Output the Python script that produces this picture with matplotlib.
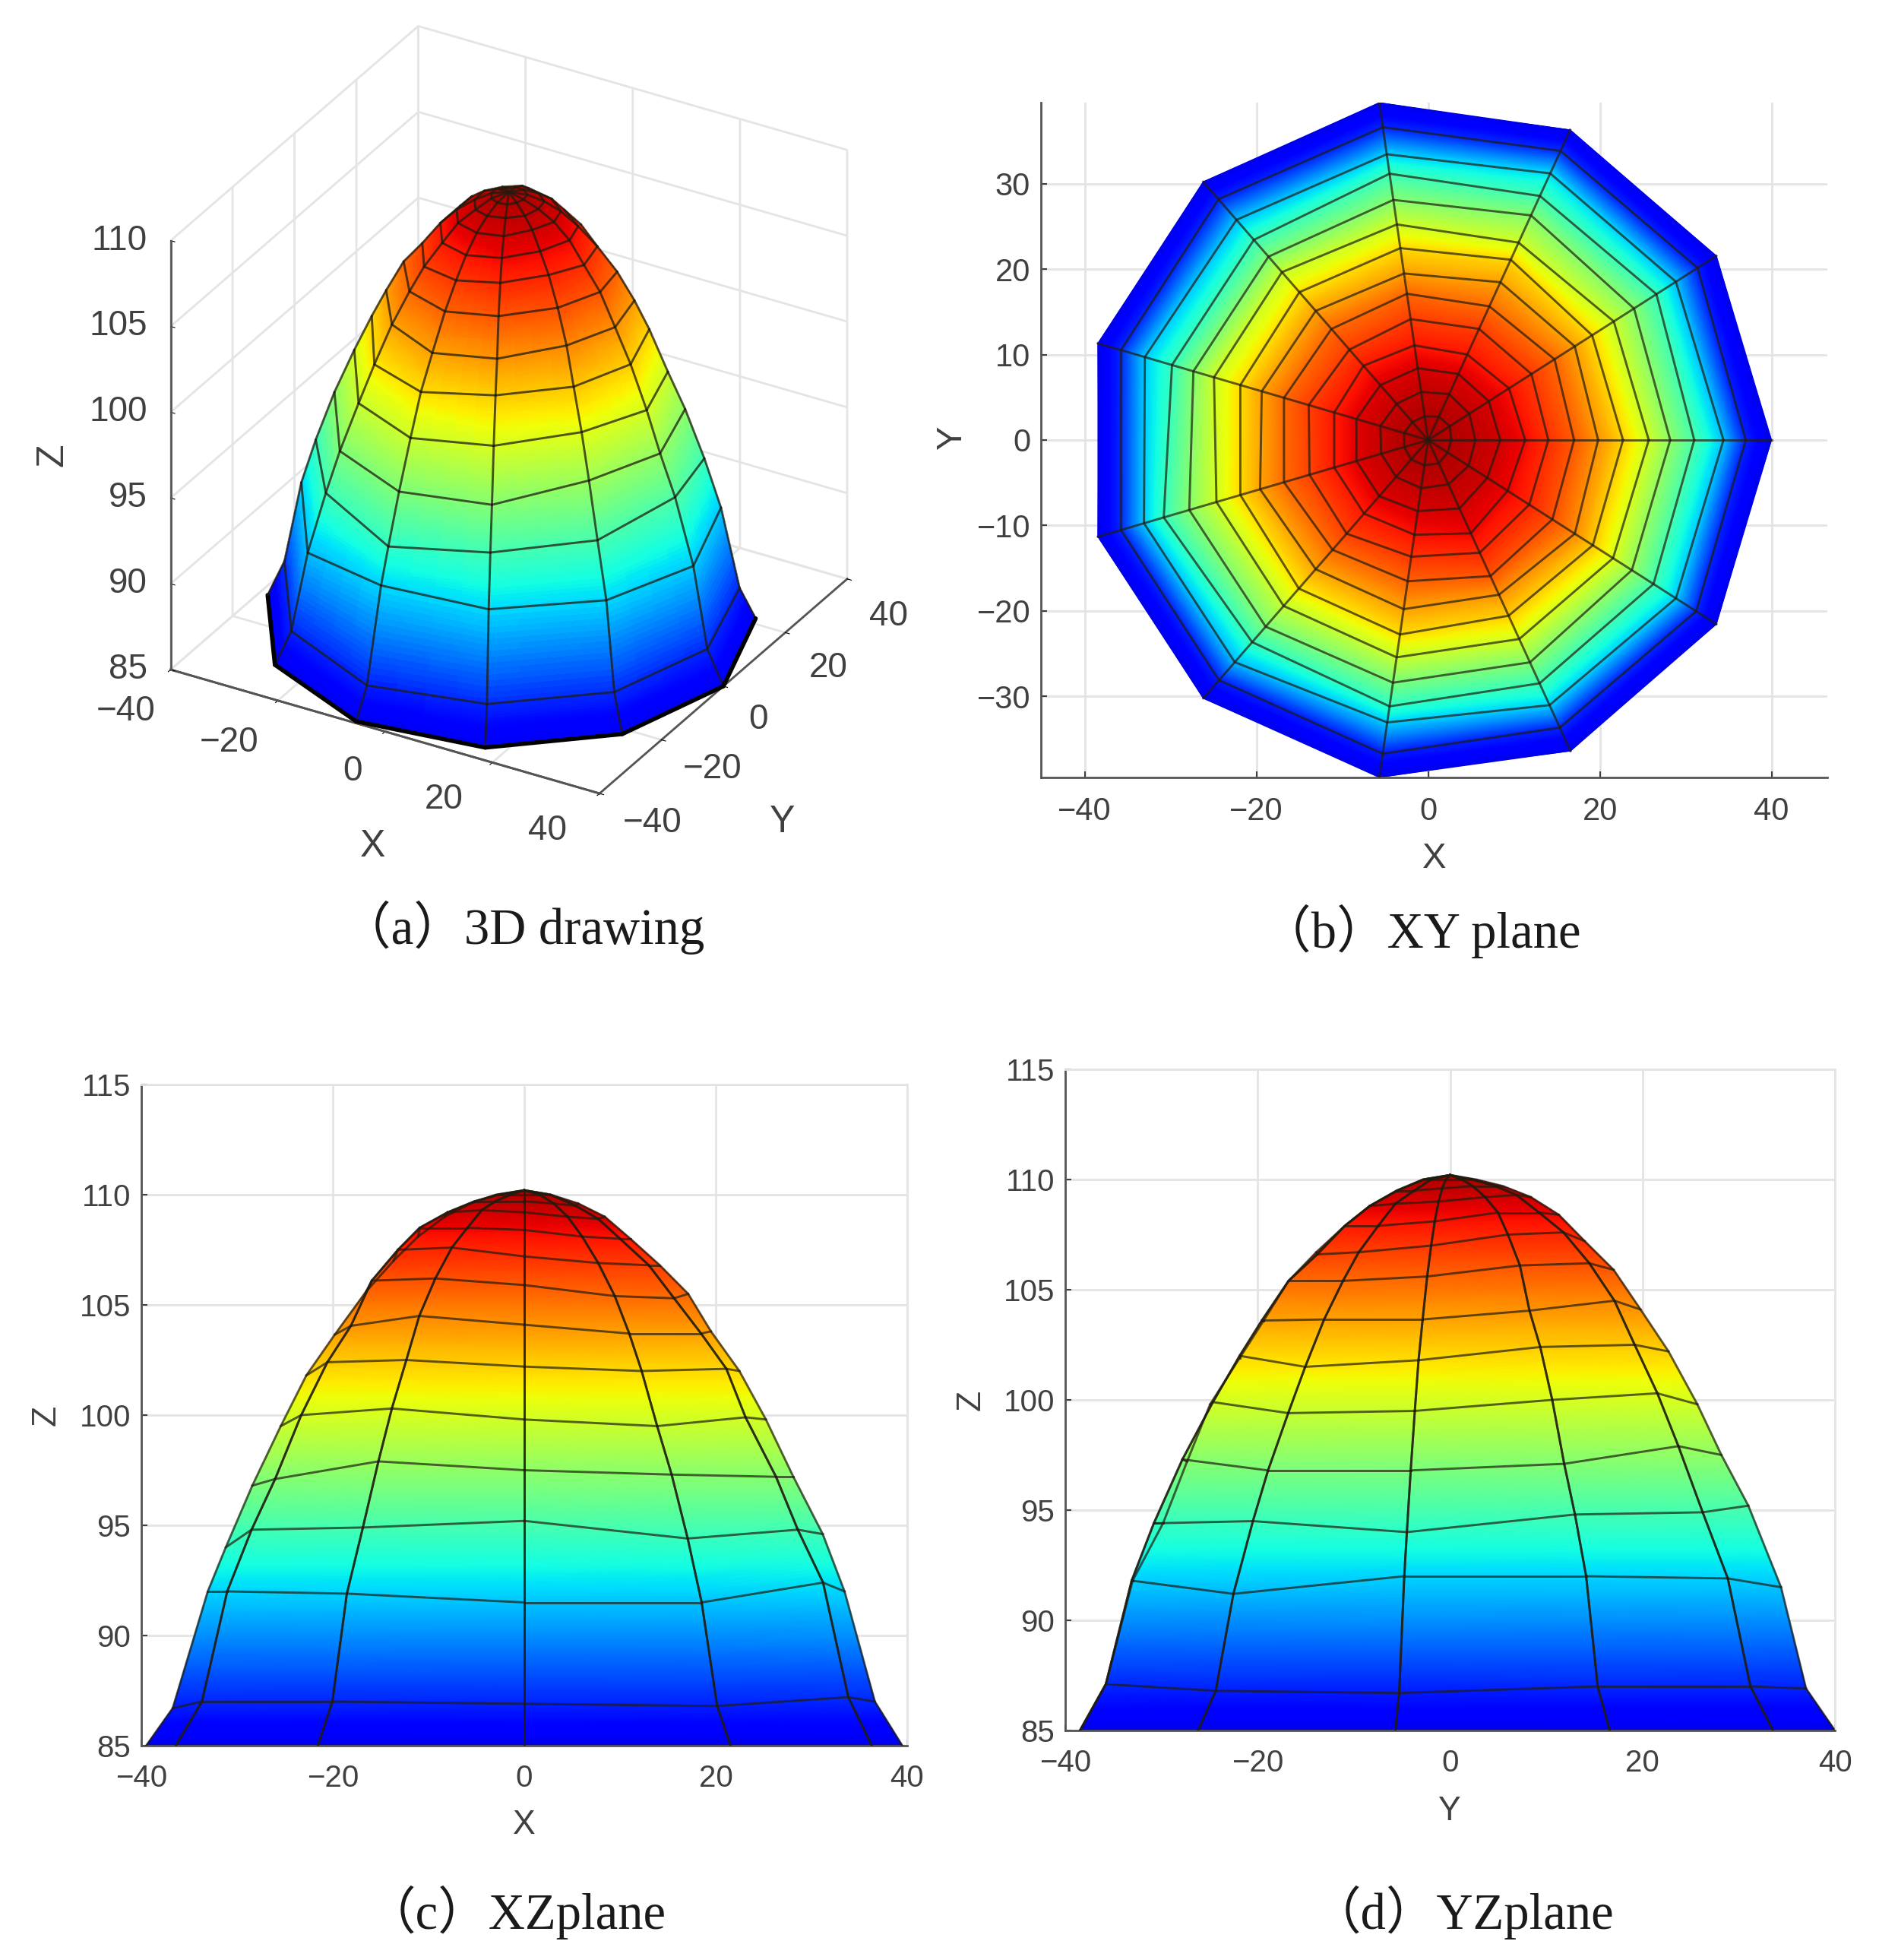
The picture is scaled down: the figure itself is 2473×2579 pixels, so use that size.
import numpy as np
import matplotlib
matplotlib.use('Agg')
import matplotlib.pyplot as plt
from mpl_toolkits.mplot3d import proj3d

W, H = 2473, 2579

# spoke angles in the XY plane (degrees)
angles = [0, 32.7, 65.5, 98.2, 130.9, 163.6, 196.4, 229.1, 261.8, 294.5, 327.3]

# radius of each ring along each spoke, centre -> outside
radius = np.array([
    [0, 2.7, 5.5, 8.4, 11.3, 14.0, 17.0, 19.8, 22.7, 25.7, 28.2, 31.0, 34.4, 37.0, 40.0],
    [0, 3.0, 5.7, 8.4, 11.2, 14.3, 17.5, 20.3, 22.7, 25.7, 28.5, 31.6, 34.3, 37.3, 39.9],
    [0, 3.0, 5.9, 8.5, 11.0, 14.3, 17.2, 20.3, 23.2, 25.4, 28.9, 31.4, 34.3, 37.2, 39.9],
    [0, 2.8, 5.7, 8.5, 11.2, 14.3, 17.3, 19.7, 22.7, 25.5, 28.4, 31.5, 33.8, 37.0, 39.9],
    [0, 2.8, 5.6, 8.5, 11.5, 14.0, 17.2, 20.0, 22.9, 26.0, 28.4, 31.0, 34.1, 37.3, 40.0],
    [0, 2.9, 5.8, 8.7, 11.4, 14.5, 17.5, 20.2, 22.8, 26.0, 28.5, 31.1, 34.4, 37.3, 40.1],
    [0, 2.9, 5.7, 8.7, 11.4, 14.4, 17.5, 20.4, 22.8, 25.7, 29.0, 32.1, 34.5, 37.3, 40.1],
    [0, 3.0, 5.7, 8.7, 11.4, 14.5, 17.0, 20.0, 23.0, 25.7, 28.9, 31.3, 34.4, 37.2, 40.0],
    [0, 3.0, 5.7, 8.4, 11.2, 13.8, 16.7, 20.0, 23.0, 25.7, 28.7, 31.5, 33.4, 37.1, 39.9],
    [0, 3.0, 5.7, 8.8, 12.0, 14.5, 17.5, 19.9, 22.6, 25.6, 28.6, 31.3, 34.1, 37.0, 40.0],
    [0, 2.7, 5.6, 8.2, 11.0, 14.0, 17.2, 20.3, 22.8, 25.6, 28.2, 31.2, 34.3, 37.1, 39.9],
])

# surface height at each ring along each spoke
height = np.array([
    [110.2, 110.0, 109.7, 109.2, 108.4, 107.2, 105.9, 104.1, 102.2, 99.8, 97.5, 95.2, 91.5, 86.9, 85],
    [110.2, 110.0, 109.6, 109.0, 108.1, 106.9, 105.4, 103.7, 102.0, 99.5, 97.3, 94.4, 91.5, 86.8, 85],
    [110.2, 110.0, 109.5, 108.9, 108.0, 106.8, 105.3, 103.7, 102.1, 99.9, 97.2, 94.8, 92.4, 87.2, 85],
    [110.2, 110.0, 109.6, 109.0, 108.0, 106.8, 105.5, 103.8, 102.0, 99.8, 97.2, 94.6, 92.0, 87.0, 85],
    [110.2, 109.9, 109.5, 108.9, 107.9, 106.8, 105.4, 103.7, 101.7, 99.5, 97.0, 94.5, 91.5, 86.9, 85],
    [110.2, 110.0, 109.5, 108.8, 107.9, 106.7, 105.4, 103.6, 101.9, 99.8, 97.2, 94.4, 91.8, 87.1, 85],
    [110.2, 110.0, 109.5, 108.8, 107.9, 106.6, 105.4, 103.6, 102.0, 99.9, 97.3, 94.4, 91.8, 87.1, 85],
    [110.2, 110.0, 109.5, 108.9, 107.9, 106.7, 105.4, 103.65, 101.5, 99.4, 96.8, 94.5, 91.2, 86.8, 85],
    [110.2, 110.0, 109.6, 109.0, 108.1, 107.0, 105.6, 103.65, 101.8, 99.5, 96.8, 94.0, 92.0, 86.7, 85],
    [110.2, 110.0, 109.7, 109.2, 108.5, 107.5, 106.1, 104.05, 102.4, 100.0, 97.1, 94.8, 92.0, 87.0, 85],
    [110.2, 110.0, 109.7, 109.3, 108.5, 107.6, 106.2, 104.5, 102.5, 100.3, 97.9, 94.9, 91.9, 87.0, 85],
])

x_ticks = [-40, -20, 0, 20, 40]
xy_y_ticks = [-30, -20, -10, 0, 10, 20, 30]
z_ticks = [85, 90, 95, 100, 105, 110, 115]
z_ticks_3d = [85, 90, 95, 100, 105, 110]
captions = ['（a）3D drawing', '（b）XY plane', '（c）XZplane', '（d）YZplane']

# pixel nudges for the 3D tick text
x_nudge = [(5, -55), (0, -55), (21, -52), (0, -49), (-5, -49)]
y_nudge = [(70, -39), (67, -39), (46, -44), (57, -47), (54, -49)]

TXT = '#404040'
GRID = '#e4e4e4'
WIRE = '#201c10'
LW = 2.1
VMIN, VMAX = 82.3, 111.3

plt.rcParams['font.family'] = ['Liberation Sans', 'DejaVu Sans']

theta = np.radians(angles)[:, None]
X = radius * np.cos(theta)
Y = radius * np.sin(theta)
n_sp, n_r = X.shape

# finer ring steps only so the colour ramp follows jet between the wire lines
ring_pos = np.arange(n_r)
fine_r = np.linspace(0, n_r - 1, (n_r - 1) * 16 + 1)
fX = np.array([np.interp(fine_r, ring_pos, X[k]) for k in range(n_sp)])
fY = np.array([np.interp(fine_r, ring_pos, Y[k]) for k in range(n_sp)])
fZ = np.array([np.interp(fine_r, ring_pos, height[k]) for k in range(n_sp)])


def rect(x0, y0, x1, y1):
    # pixel box (from the top left) -> figure fraction
    return [x0 / W, 1 - y1 / H, (x1 - x0) / W, (y1 - y0) / H]


def style_2d(ax, xt, yt, xlim, ylim, fs, xpad, box=True):
    ax.set_xlim(xlim)
    ax.set_ylim(ylim)
    ax.set_xticks(xt)
    ax.set_yticks(yt)
    ax.grid(True, color=GRID, lw=2.0)
    ax.set_axisbelow(True)
    ax.tick_params(direction='in', length=6, width=1.5, colors=TXT, labelsize=fs)
    ax.tick_params(axis='x', pad=xpad)
    ax.tick_params(axis='y', pad=10)
    for s in ['left', 'bottom']:
        ax.spines[s].set_color('#555555')
        ax.spines[s].set_linewidth(2.0)
    for s in ['top', 'right']:
        ax.spines[s].set_visible(box)
        ax.spines[s].set_color(GRID)
        ax.spines[s].set_linewidth(2.0)


def axis_labels(ax, xl, yl, fs, xc, yc):
    ax.set_xlabel(xl, fontsize=fs, color=TXT, va='center')
    ax.xaxis.set_label_coords(*xc)
    ax.set_ylabel(yl, fontsize=fs, color=TXT, va='center')
    ax.yaxis.set_label_coords(*yc)


def side_view(ax, horiz, fine_h, depth):
    # back sectors first, so the front ones win
    order = []
    for k in range(n_sp):
        k2 = (k + 1) % n_sp
        order.append((depth[k, -1] + depth[k2, -1], k, k2))
    order.sort()
    for d, k, k2 in order:
        hh = np.stack([fine_h[k], fine_h[k2]], axis=1)
        zz = np.stack([fZ[k], fZ[k2]], axis=1)
        ax.pcolormesh(hh, zz, zz, cmap='jet', vmin=VMIN, vmax=VMAX, shading='gouraud', zorder=2)
    for d, k, k2 in order:
        if d < -1:
            continue
        ax.plot(horiz[k], height[k], color=WIRE, lw=LW, alpha=0.7, zorder=3)
        ax.plot(horiz[k2], height[k2], color=WIRE, lw=LW, alpha=0.7, zorder=3)
        for j in range(n_r - 1):
            ax.plot([horiz[k, j], horiz[k2, j]], [height[k, j], height[k2, j]],
                    color=WIRE, lw=LW, alpha=0.7, zorder=3)


fig = plt.figure(figsize=(W / 100, H / 100), dpi=100, facecolor='white')

# (a) 3D view
ax = fig.add_axes(rect(107, 6, 1203, 1102), projection='3d', proj_type='ortho')
ax.patch.set_alpha(0)
AZ, EL = -60, 30
ax.view_init(elev=EL, azim=AZ)
ax.set_box_aspect((1, 1, 1))
ax.computed_zorder = False
ax.set_xlim(-40, 40, view_margin=0)
ax.set_ylim(-40, 40, view_margin=0)
ax.set_zlim(85, 110, view_margin=0)

sub = 4
s_old = np.arange(n_sp + 1)
s_new = np.linspace(0, n_sp, n_sp * sub + 1)
gx = np.array([np.interp(s_new, s_old, np.r_[fX[:, j], fX[0, j]]) for j in range(fX.shape[1])]).T
gy = np.array([np.interp(s_new, s_old, np.r_[fY[:, j], fY[0, j]]) for j in range(fX.shape[1])]).T
gz = np.array([np.interp(s_new, s_old, np.r_[fZ[:, j], fZ[0, j]]) for j in range(fX.shape[1])]).T
colors = plt.get_cmap('jet')((gz - VMIN) / (VMAX - VMIN))
ax.plot_surface(gx, gy, gz, facecolors=colors, rstride=1, cstride=1, shade=False,
                linewidth=0, antialiased=False, zorder=1)

# wire lines on faces turned to the viewer only
view = np.array([np.cos(np.radians(EL)) * np.cos(np.radians(AZ)),
                 np.cos(np.radians(EL)) * np.sin(np.radians(AZ)),
                 np.sin(np.radians(EL))])
box_pts = np.stack([X / 80, Y / 80, (height - 85) / 25], axis=2)
edges = set()
for k in range(n_sp):
    k2 = (k + 1) % n_sp
    for j in range(n_r - 1):
        d1 = box_pts[k2, j + 1] - box_pts[k, j]
        d2 = box_pts[k, j + 1] - box_pts[k2, j]
        nrm = np.cross(d1, d2)
        if nrm[2] < 0:
            nrm = -nrm
        if nrm @ view > 0:
            edges.add((k, j, k, j + 1))
            edges.add((k2, j, k2, j + 1))
            edges.add((k, j + 1, k2, j + 1))
            if j > 0:
                edges.add((k, j, k2, j))
for a, b, c, d in edges:
    outer = (b == n_r - 1 and d == n_r - 1)
    ax.plot([X[a, b], X[c, d]], [Y[a, b], Y[c, d]], [height[a, b], height[c, d]],
            color='black' if outer else WIRE, lw=4.0 if outer else LW,
            alpha=1 if outer else 0.75, zorder=3, solid_capstyle='round')

ax.plot([-40, -40], [-40, -40], [85, 110], color='#555555', lw=2.0, zorder=0)
ax.set_xticks(x_ticks)
ax.set_yticks(x_ticks)
ax.set_zticks(z_ticks_3d)
ax.set_xticklabels([])
ax.set_yticklabels([])
ax.set_zticklabels([])
ax.zaxis._axinfo['juggled'] = (1, 0, 2)
for axis in [ax.xaxis, ax.yaxis, ax.zaxis]:
    axis.set_pane_color((1, 1, 1, 0))
    axis.pane.set_edgecolor(GRID)
    axis.line.set_color('#555555')
    axis.line.set_linewidth(2.0)
    axis._axinfo['grid'].update(color=GRID, linewidth=2.0)
    axis._axinfo['tick'].update(inward_factor=0.12, outward_factor=0.0)


def label3d(x, y, z, txt, dx, dy, fs=33, **kw):
    # tick text pinned to a projected point of the box, offset in pixels
    px, py, _ = proj3d.proj_transform(x, y, z, ax.get_proj())
    ax.annotate(txt, xy=(px, py), xytext=(dx, dy), textcoords='offset pixels',
                fontsize=fs, color=TXT, va='center', annotation_clip=False, **kw)


for v, xn, yn in zip(x_ticks, x_nudge, y_nudge):
    s = str(v).replace('-', '\u2212')
    label3d(v, -40, 85, s, xn[0] - 64, xn[1], ha='center')
    label3d(40, v, 85, s, yn[0], yn[1], ha='center')
for v in z_ticks_3d:
    label3d(-40, -40, v, str(v), -31, 0, ha='right')
label3d(0, -40, 85, 'X', -16, -151, fs=36, ha='center')
label3d(40, 0, 85, 'Y', 77, -179, fs=36, ha='center')
label3d(-40, -40, 97.5, 'Z', -155, 0, fs=36, ha='center', rotation=90)

# (b) XY plane
ax = fig.add_axes(rect(1370, 135, 2405, 1023))
style_2d(ax, x_ticks, xy_y_ticks, (-45.1, 46.5), (-39.5, 39.5), 30, 18, box=False)
ax.pcolormesh(np.vstack([fX, fX[:1]]), np.vstack([fY, fY[:1]]), np.vstack([fZ, fZ[:1]]),
              cmap='jet', vmin=VMIN, vmax=VMAX, shading='gouraud', zorder=2)
Xc = np.vstack([X, X[:1]])
Yc = np.vstack([Y, Y[:1]])
for k in range(n_sp):
    ax.plot(X[k], Y[k], color=WIRE, lw=LW, alpha=0.7, zorder=3)
for j in range(1, n_r - 1):
    ax.plot(Xc[:, j], Yc[:, j], color=WIRE, lw=LW, alpha=0.7, zorder=3)
axis_labels(ax, 'X', 'Y', 34, (0.5, -0.121), (-0.113, 0.504))

# (c) XZ plane: horizontal is the Y of panel b, spoke 0 faces the viewer
ax = fig.add_axes(rect(186, 1427, 1194, 2297))
style_2d(ax, x_ticks, z_ticks, (-40, 40), (85, 115), 29, 17)
side_view(ax, Y, fY, X)
axis_labels(ax, 'X', 'Z', 32, (0.5, -0.12), (-0.124, 0.5))

# (d) YZ plane: horizontal is the X of panel b, seen from negative Y
ax = fig.add_axes(rect(1402, 1407, 2415, 2277))
style_2d(ax, x_ticks, z_ticks, (-40, 40), (85, 115), 29, 17)
side_view(ax, X, fX, -Y)
axis_labels(ax, 'Y', 'Z', 32, (0.498, -0.122), (-0.122, 0.5))

cap_pos = [(448, 1220), (1659, 1225), (481, 2516), (1725, 2516)]
for txt, (px, py) in zip(captions, cap_pos):
    fig.text(px / W, 1 - py / H, txt, fontsize=48, color='#1a1a1a', ha='left', va='center',
             family=['Liberation Serif', 'Noto Sans CJK SC'])

fig.savefig('out.png', dpi=100)
